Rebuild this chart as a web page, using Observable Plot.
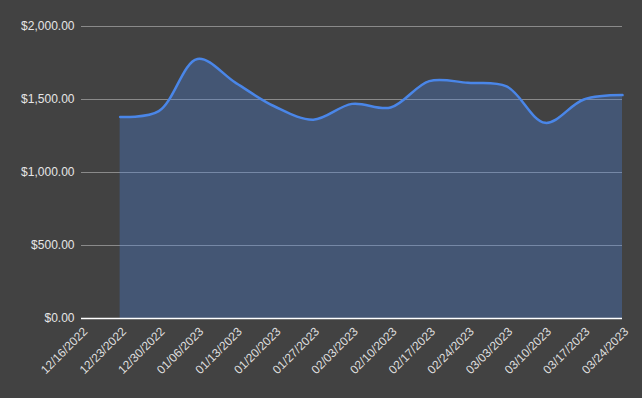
<!DOCTYPE html>
<html>
<head>
<meta charset="utf-8">
<script src="https://cdn.jsdelivr.net/npm/d3@7"></script>
<script src="https://cdn.jsdelivr.net/npm/@observablehq/plot@0.6"></script>
<style>
  html, body { margin: 0; padding: 0; background: #424242; }
  #chart { width: 642px; height: 398px; }
</style>
</head>
<body>
<div id="chart"></div>
<script>
const tickDates = ["2022-12-16","2022-12-23","2022-12-30","2023-01-06","2023-01-13","2023-01-20","2023-01-27","2023-02-03","2023-02-10","2023-02-17","2023-02-24","2023-03-03","2023-03-10","2023-03-17","2023-03-24"];
const dataDates = ["2022-12-23","2022-12-30","2023-01-06","2023-01-13","2023-01-20","2023-01-27","2023-02-03","2023-02-10","2023-02-17","2023-02-24","2023-03-03","2023-03-10","2023-03-17","2023-03-24"];
const values = [1380, 1420, 1778, 1612, 1452, 1362, 1470, 1445, 1626, 1614, 1590, 1340, 1500, 1530];
const yTicks = [0, 500, 1000, 1500, 2000];

const parse = d3.utcParse("%Y-%m-%d");
const data = dataDates.map((d, i) => ({date: parse(d), value: values[i]}));
const ticks = tickDates.map(parse);

const chart = Plot.plot({
  width: 642,
  height: 398,
  marginLeft: 81,
  marginRight: 20,
  marginTop: 26,
  marginBottom: 80,
  style: {background: "#424242", color: "#e6e6e6", fontFamily: "Arial, 'Liberation Sans', sans-serif", fontSize: "12px"},
  x: {type: "utc", domain: [ticks[0], ticks[ticks.length - 1]]},
  y: {domain: [0, 2000]},
  marks: [
    Plot.ruleY(yTicks.filter(d => d > 0), {stroke: "#8a8a8a", strokeWidth: 1}),
    Plot.areaY(data, {x: "date", y: "value", fill: "#4a86e8", fillOpacity: 0.3, curve: "catmull-rom"}),
    Plot.lineY(data, {x: "date", y: "value", stroke: "#4a86e8", strokeWidth: 2.5, curve: "catmull-rom"}),
    Plot.ruleY([0], {stroke: "#ffffff", strokeWidth: 1.5}),
    Plot.axisY({ticks: yTicks, tickSize: 0, tickPadding: 7, tickFormat: d => "$" + d3.format(",.2f")(d), label: null, fill: "#e6e6e6"}),
    Plot.axisX({ticks: ticks, tickSize: 0, tickPadding: 6, dx: 4, dy: 5, tickRotate: -45, tickFormat: d3.utcFormat("%m/%d/%Y"), label: null, fill: "#dddddd"})
  ]
});
document.getElementById("chart").appendChild(chart);
</script>
</body>
</html>
